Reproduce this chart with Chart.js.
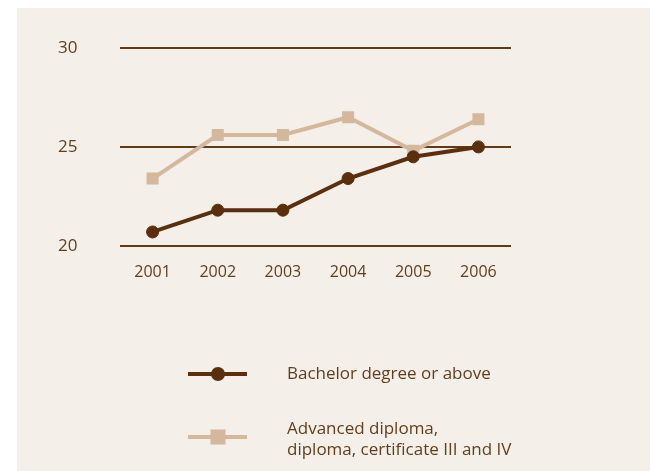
<!DOCTYPE html>
<html>
<head>
<meta charset="utf-8">
<script src="https://cdn.jsdelivr.net/npm/chart.js@4"></script>
<style>
  html, body { margin: 0; padding: 0; background: #ffffff; }
  #wrap { position: relative; width: 650px; height: 471px; }
</style>
</head>
<body>
<div id="wrap"><canvas id="c" width="650" height="471"></canvas></div>
<script>
// Years on the horizontal axis
const years = ['2001', '2002', '2003', '2004', '2005', '2006'];
// Percentages by qualification level
const bachelorOrAbove = [20.7, 21.8, 21.8, 23.4, 24.5, 25.0];
const advancedDiplomaCert = [23.4, 25.6, 25.6, 26.5, 24.8, 26.4];
// Series names shown in the key
const seriesNames = ['Bachelor degree or above', 'Advanced diploma,\ndiploma, certificate III and IV'];
// Value-axis ticks
const yTicks = [20, 25, 30];

const DARK = '#5b2f0d';
const LIGHT = '#d3b89c';
const TEXT = '#623e1c';
const GRID = '#623a16';
const PANEL = '#f4efe9';
const FONT = "'Open Sans', 'Noto Sans', sans-serif";

// Beige panel behind the whole figure
const panelBg = {
  id: 'panelBg',
  beforeDraw(chart) {
    const ctx = chart.ctx;
    ctx.save();
    ctx.fillStyle = PANEL;
    ctx.fillRect(17, 8, chart.width - 17, chart.height - 8);
    ctx.restore();
  }
};

// Key below the plot: line sample with marker, then label text
const keyBelow = {
  id: 'keyBelow',
  afterDraw(chart) {
    const ctx = chart.ctx;
    const rows = [
      { y: 374, textY: [374] },
      { y: 437, textY: [429, 450] }
    ];
    ctx.save();
    chart.data.datasets.forEach((ds, i) => {
      const r = rows[i];
      ctx.strokeStyle = ds.borderColor;
      ctx.lineWidth = 4;
      ctx.beginPath();
      ctx.moveTo(188, r.y);
      ctx.lineTo(247, r.y);
      ctx.stroke();
      ctx.fillStyle = ds.pointBackgroundColor;
      if (ds.pointStyle === 'rect') {
        ctx.fillRect(218 - 7.5, r.y - 7.5, 15, 15);
      } else {
        ctx.beginPath();
        ctx.arc(218, r.y, 7, 0, Math.PI * 2);
        ctx.fill();
      }
      ctx.fillStyle = TEXT;
      ctx.font = '17px ' + FONT;
      ctx.textAlign = 'left';
      ctx.textBaseline = 'middle';
      ds.label.split('\n').forEach((line, k) => {
        ctx.fillText(line, 287, r.textY[k]);
      });
    });
    ctx.restore();
  }
};

new Chart(document.getElementById('c'), {
  type: 'line',
  data: {
    labels: years,
    datasets: [
      {
        label: seriesNames[0],
        data: bachelorOrAbove,
        borderColor: DARK,
        backgroundColor: DARK,
        pointBackgroundColor: DARK,
        pointBorderColor: DARK,
        borderWidth: 4,
        pointStyle: 'circle',
        pointRadius: 6,
        pointBorderWidth: 1,
        tension: 0
      },
      {
        label: seriesNames[1],
        data: advancedDiplomaCert,
        borderColor: LIGHT,
        backgroundColor: LIGHT,
        pointBackgroundColor: LIGHT,
        pointBorderColor: LIGHT,
        borderWidth: 4,
        pointStyle: 'rect',
        pointRadius: 8.5,
        pointBorderWidth: 0,
        tension: 0
      }
    ]
  },
  options: {
    responsive: false,
    animation: false,
    devicePixelRatio: 1,
    layout: { padding: { left: 58, top: 48, right: 139, bottom: 172 } },
    plugins: {
      legend: { display: false },
      tooltip: { enabled: false }
    },
    scales: {
      x: {
        offset: true,
        grid: { display: false, drawTicks: false },
        border: { display: false },
        ticks: { color: TEXT, font: { family: FONT, size: 16 }, padding: 17, maxRotation: 0 }
      },
      y: {
        min: 20,
        max: 30,
        afterFit(scale) { scale.width = 62; },
        afterBuildTicks(scale) { scale.ticks = yTicks.map(v => ({ value: v })); },
        grid: { color: GRID, lineWidth: 2, drawTicks: false },
        border: { display: false },
        ticks: { color: TEXT, font: { family: FONT, size: 17 }, padding: 0, crossAlign: 'far' }
      }
    }
  },
  plugins: [panelBg, keyBelow]
});
</script>
</body>
</html>
